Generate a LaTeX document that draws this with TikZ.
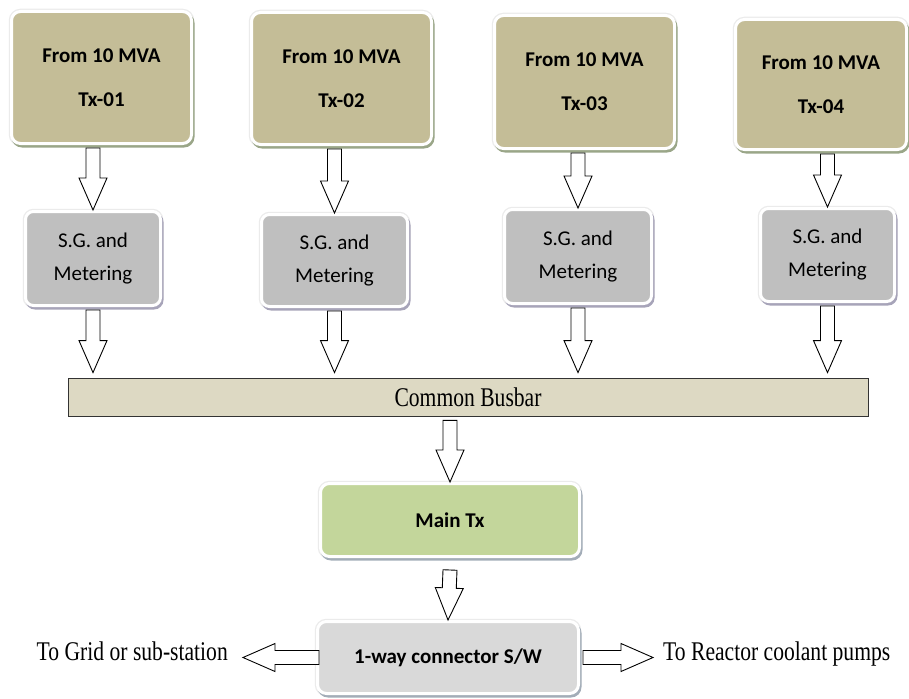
\documentclass[tikz,border=0pt]{standalone}
\usepackage{fontspec}
\setmainfont{Liberation Serif}[FakeStretch=0.8]
\newfontfamily\calib{Carlito}
\usetikzlibrary{calc,positioning,shadows}

\definecolor{txfill}{HTML}{C4BD97}
\definecolor{txshade}{HTML}{9AA688}
\definecolor{sgfill}{HTML}{BFBFBF}
\definecolor{sgshade}{HTML}{A7A4B9}
\definecolor{mainfill}{HTML}{C3D69B}
\definecolor{connfill}{HTML}{D9D9D9}
\definecolor{lowshade}{HTML}{A3ADB8}
\definecolor{busfill}{HTML}{DDD9C3}

\tikzset{
  box/.style={rounded corners=9pt, draw=white, line width=3pt, align=center, inner sep=0pt,
    preaction={draw=black!8, line width=5.5pt}},
  txbox/.style={box, fill=txfill, font=\calib\bfseries\fontsize{21}{44}\selectfont,
    drop shadow={shadow xshift=1.5pt, shadow yshift=-2.5pt, fill=txshade, draw=txshade, line width=3pt, opacity=1}},
  sgbox/.style={box, rounded corners=8pt, fill=sgfill, font=\calib\fontsize{21}{33}\selectfont,
    drop shadow={shadow xshift=1.5pt, shadow yshift=-2.5pt, fill=sgshade, draw=sgshade, line width=3pt, opacity=1}},
  lowbox/.style={box, font=\calib\bfseries\fontsize{21}{24}\selectfont,
    drop shadow={shadow xshift=1.5pt, shadow yshift=-2.5pt, fill=lowshade, draw=lowshade, line width=3pt, opacity=1}},
  lbl/.style={inner sep=0pt, text height=.68em, text depth=.22em, font=\fontsize{27}{30}\selectfont},
  barrow/.style={draw=black, line width=0.9pt, fill=white, line join=miter,
    to path={let \p1=(\tikztostart), \p2=(\tikztotarget) in
      ($(\p1)!7pt!90:(\p2)$) -- ($(\p2)!32pt!(\p1)!7pt!-90:(\p1)$)
      -- ($(\p2)!32pt!(\p1)!14pt!-90:(\p1)$) -- (\p2)
      -- ($(\p2)!32pt!(\p1)!14pt!90:(\p1)$) -- ($(\p2)!32pt!(\p1)!7pt!90:(\p1)$)
      -- ($(\p1)!7pt!-90:(\p2)$) -- cycle}}
}

\begin{document}
\begin{tikzpicture}[x=1pt,y=-1pt]
\useasboundingbox (0,0) rectangle (909,698);
% transformers
\node (tx1) [txbox, minimum width=180pt, minimum height=132pt] at (101.5,77.5) {From 10 MVA\\Tx-01};
\node (tx2) [txbox, minimum width=180pt, minimum height=132pt] at (341.5,78.5) {From 10 MVA\\Tx-02};
\node (tx3) [txbox, minimum width=180pt, minimum height=133pt] at (584.5,82) {From 10 MVA\\Tx-03};
\node (tx4) [txbox, minimum width=171pt, minimum height=130pt] at (821,84.5) {From 10 MVA\\Tx-04};
% switchgear
\node (sg1) [sgbox, minimum width=135pt, minimum height=94pt] at (93,258.5) {S.G. and\\Metering};
\node (sg2) [sgbox, minimum width=146pt, minimum height=92pt] at (334.5,260.5) {S.G. and\\Metering};
\node (sg3) [sgbox, minimum width=147pt, minimum height=94pt] at (578,256.5) {S.G. and\\Metering};
\node (sg4) [sgbox, minimum width=134pt, minimum height=93pt] at (827.5,255) {S.G. and\\Metering};
\node (bus) [draw=black!80, line width=0.8pt, fill=busfill, minimum width=800pt, minimum height=38pt,
  inner sep=0pt, font=\fontsize{27}{30}\selectfont] at (468,397) {Common Busbar};
\node (main) [lowbox, fill=mainfill, minimum width=259pt, minimum height=73pt] at (450,520) {Main Tx};
\node (conn) [lowbox, fill=connfill, minimum width=261pt, minimum height=72pt] at (448,657.5) {1-way connector S/W};
\node (grid) [lbl, anchor=east] at (228,658) {To Grid or sub-station};
\node (pump) [lbl, anchor=west] at (663,658) {To Reactor coolant pumps};

\foreach \i in {1,...,4} {
  \draw [barrow] ($(sg\i.north |- tx\i.south)+(0,3)$) to (sg\i.north);
  \draw [barrow] ($(sg\i.south)+(0,3)$) to ($(sg\i.south |- bus.north)+(0,-5)$);
}
\draw [barrow] ($(main.north |- bus.south)+(0,4)$) to (main.north);
\draw [barrow] ($(main.south)+(0,12)$) to (conn.north);
\draw [barrow] ($(conn.west)+(3,0)$) to ($(conn.west -| grid.east)+(15,0)$);
\draw [barrow] ($(conn.east)+(3,0)$) to ($(conn.east -| pump.west)+(-10,0)$);
\end{tikzpicture}
\end{document}
